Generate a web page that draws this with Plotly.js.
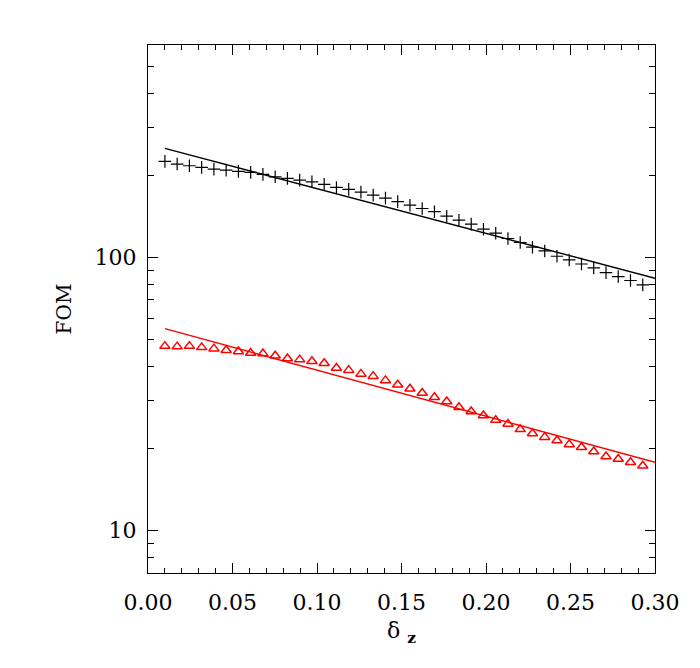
<!DOCTYPE html>
<html>
<head>
<meta charset="utf-8">
<script src="https://cdn.plot.ly/plotly-3.0.1.min.js"></script>
<style>html,body{margin:0;padding:0;background:#fff;}#chart{width:700px;height:668px;}</style>
</head>
<body>
<div id="chart"></div>
<script>
var deltaZ = [0.01, 0.01725, 0.0245, 0.03175, 0.039, 0.04625, 0.0535, 0.06075, 0.068, 0.07525,
  0.0825, 0.08975, 0.097, 0.10425, 0.1115, 0.11875, 0.126, 0.13325, 0.1405, 0.14775,
  0.155, 0.16225, 0.1695, 0.17675, 0.184, 0.19125, 0.1985, 0.20575, 0.213, 0.22025,
  0.2275, 0.23475, 0.242, 0.24925, 0.2565, 0.26375, 0.271, 0.27825, 0.2855, 0.29275];

var fomBlack = [224.9, 219.9, 216.8, 213.8, 210.8, 208.9, 206.7, 205.0, 201.6, 197.5,
  194.9, 192.1, 189.4, 185.3, 180.6, 177.6, 173.6, 169.2, 165.0, 160.2,
  155.5, 151.2, 147.2, 141.7, 137.0, 132.5, 127.0, 122.8, 117.4, 113.5,
  109.1, 105.7, 101.1, 98.0, 94.7, 91.6, 88.1, 85.2, 82.4, 79.4];

var fomRed = [47.4, 47.2, 47.4, 46.9, 46.4, 45.8, 45.3, 44.7, 44.5, 43.7,
  42.7, 42.3, 41.7, 41.0, 39.4, 38.7, 37.5, 36.8, 35.5, 34.2,
  33.1, 31.9, 30.8, 29.7, 28.3, 27.3, 26.4, 25.4, 24.6, 23.5,
  22.7, 22.0, 21.4, 20.7, 20.2, 19.5, 18.7, 18.3, 17.8, 17.3];

var fitX = [0.01, 0.30];
var fitBlack = [251, 84];
var fitRed = [54.9, 17.8];

var xTickVals = [0.00, 0.05, 0.10, 0.15, 0.20, 0.25, 0.30];
var xTickText = ["0.00", "0.05", "0.10", "0.15", "0.20", "0.25", "0.30"];
var yTickVals = [10, 100];
var yTickText = ["10", "100"];
var yMinorVals = [7, 8, 9, 20, 30, 40, 50, 60, 70, 80, 90, 200, 300, 400, 500, 600];

var font = {family: "DejaVu Serif", size: 22, color: "#000"};

var traces = [
  {x: deltaZ, y: fomBlack, mode: "markers", type: "scatter",
   marker: {symbol: "cross-thin-open", size: 9, color: "#000", line: {color: "#000", width: 1.2}}},
  {x: fitX, y: fitBlack, mode: "lines", type: "scatter", line: {color: "#000", width: 1.4}},
  {x: deltaZ, y: fomRed, mode: "markers", type: "scatter",
   marker: {symbol: "triangle-up-open", size: 9, color: "#ff0000", line: {color: "#ff0000", width: 1.5}}},
  {x: fitX, y: fitRed, mode: "lines", type: "scatter", line: {color: "#ff0000", width: 1.4}}
];

var layout = {
  width: 700, height: 668,
  margin: {l: 148, r: 45, t: 45, b: 95},
  showlegend: false,
  paper_bgcolor: "#fff", plot_bgcolor: "#fff",
  font: font,
  xaxis: {
    range: [0, 0.30], tickmode: "array", tickvals: xTickVals, ticktext: xTickText,
    ticks: "inside", ticklen: 10, tickwidth: 1, tickcolor: "#000",
    showline: true, linecolor: "#000", linewidth: 1, mirror: "ticks",
    showgrid: false, zeroline: false, tickfont: font, ticklabelstandoff: 10,
    minor: {dtick: 0.01, tick0: 0, ticks: "inside", ticklen: 5, tickcolor: "#000", tickwidth: 1, showgrid: false},
    title: {text: "δ <sub><b>z</b></sub>", font: font, standoff: 8}
  },
  yaxis: {
    type: "log", range: [Math.log10(7), Math.log10(600)],
    tickmode: "array", tickvals: yTickVals, ticktext: yTickText,
    ticks: "inside", ticklen: 10, tickwidth: 1, tickcolor: "#000",
    showline: true, linecolor: "#000", linewidth: 1, mirror: "ticks",
    showgrid: false, zeroline: false, tickfont: font, ticklabelstandoff: 6,
    minor: {tickmode: "array", tickvals: yMinorVals, ticks: "inside", ticklen: 6, tickcolor: "#000", tickwidth: 1, showgrid: false},
    title: {text: "FOM", font: {family: "DejaVu Serif", size: 20, color: "#000"}, standoff: 17}
  }
};

Plotly.newPlot("chart", traces, layout, {staticPlot: true, displayModeBar: false});
</script>
</body>
</html>
